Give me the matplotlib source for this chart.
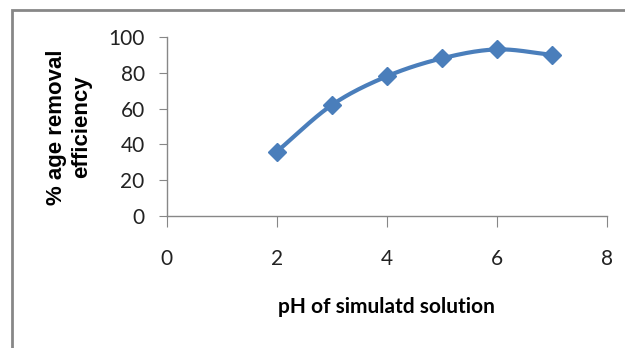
import numpy as np
import matplotlib.pyplot as plt
from matplotlib.patches import Rectangle

# data
ph = [2, 3, 4, 5, 6, 7]
removal = [36, 62, 78, 88, 93, 90]

x_ticks = [0, 2, 4, 6, 8]
y_ticks = [0, 20, 40, 60, 80, 100]

x_label = 'pH of simulatd solution'
y_label = '% age removal\nefficiency'

line_color = '#4A7EBB'
axis_color = '#878787'

plt.rcParams['font.family'] = ['Lato', 'DejaVu Sans']


def smooth_curve(xs, ys, n=30):
    '''
    Catmull-Rom curve through the points, like the smoothed line of a spreadsheet chart
    '''
    xs, ys = np.asarray(xs, float), np.asarray(ys, float)
    px = np.concatenate([[2 * xs[0] - xs[1]], xs, [2 * xs[-1] - xs[-2]]])
    py = np.concatenate([[2 * ys[0] - ys[1]], ys, [2 * ys[-1] - ys[-2]]])
    out_x, out_y = [], []
    t = np.linspace(0, 1, n)
    for i in range(1, len(px) - 2):
        for p, out in ((px, out_x), (py, out_y)):
            p0, p1, p2, p3 = p[i - 1], p[i], p[i + 1], p[i + 2]
            out.extend(0.5 * (2 * p1 + (-p0 + p2) * t
                              + (2 * p0 - 5 * p1 + 4 * p2 - p3) * t ** 2
                              + (-p0 + 3 * p1 - 3 * p2 + p3) * t ** 3))
    return np.array(out_x), np.array(out_y)


fig = plt.figure(figsize=(6.25, 3.48), dpi=100)
ax = fig.add_axes([0.267, 0.379, 0.704, 0.515])

# outer chart frame (cut off at right and bottom)
fig.patches.append(Rectangle((12 / 625, -0.1), 1.2, 1 - 10 / 348 + 0.1,
                             transform=fig.transFigure, fill=False,
                             edgecolor=axis_color, linewidth=2))

sx, sy = smooth_curve(ph, removal)
ax.plot(sx, sy, color=line_color, linewidth=3, solid_capstyle='round')
ax.plot(ph, removal, linestyle='none', marker='D', markersize=9,
        color=line_color, markeredgecolor=line_color)

ax.set_xlim(0, 8)
ax.set_ylim(0, 100)
ax.set_xticks(x_ticks)
ax.set_yticks(y_ticks)

for side in ('top', 'right'):
    ax.spines[side].set_visible(False)
for side in ('left', 'bottom'):
    ax.spines[side].set_color(axis_color)
    ax.spines[side].set_linewidth(1)

ax.tick_params(axis='x', direction='out', length=8, color=axis_color,
               labelsize=15, pad=16, labelcolor='#222222')
ax.tick_params(axis='y', direction='out', length=6, color=axis_color,
               labelsize=15, pad=10, labelcolor='#222222')

ax.set_xlabel(x_label, fontsize=15, fontweight='bold', labelpad=20)
# y title placed in figure coordinates, as the spreadsheet did
fig.text(69 / 625, 1 - 127 / 348, y_label, rotation=90,
         family=['Liberation Sans', 'DejaVu Sans'], fontsize=16,
         fontweight='bold', linespacing=1.28, va='center', ha='center',
         multialignment='center')

fig.savefig('out.png', dpi=100)
